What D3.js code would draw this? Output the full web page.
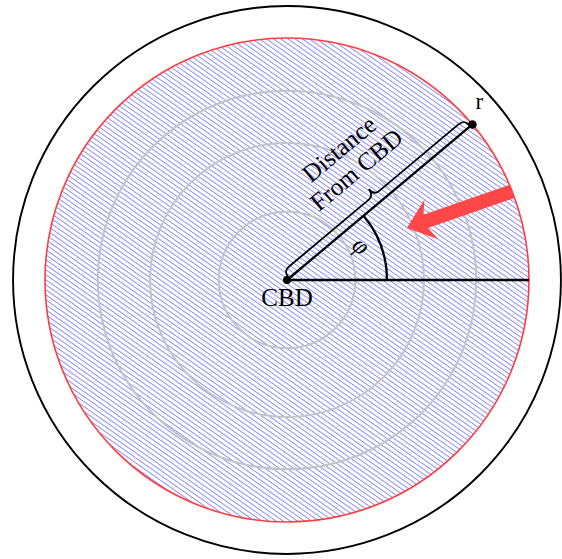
<!DOCTYPE html>
<html><head><meta charset="utf-8">
<script src="https://cdn.jsdelivr.net/npm/d3@7/dist/d3.min.js"></script>
<style>html,body{margin:0;padding:0;background:#fff;}</style>
</head><body>
<script>
// Diagram values (in units of the city boundary radius)
const ringRadii = [0.282, 0.566, 0.782];      // grey concentric rings
const boundaryRadius = [1.0];                   // red city boundary (hatched area)
const outerRadius = [1.132];                    // outer black circle
const phiDeg = [40];                            // angle of the ray to r
const arcRadius = [0.413];                      // angle-marker arc radius
const arrowFrom = {r: 1.0, deg: 21.5};          // red arrow start (polar)
const arrowTo = {r: 0.54, deg: 23.5};           // red arrow tip (polar)
const labels = {center: "CBD", point: "r", angle: "φ", brace: ["Distance", "From CBD"]};

const W = 562, H = 559, cx = 287, cy = 280;
const rs = d3.scaleLinear().domain([0, 1]).range([0, 242]);
const polar = (r, deg) => [cx + rs(r) * Math.cos(deg * Math.PI / 180), cy - rs(r) * Math.sin(deg * Math.PI / 180)];

const svg = d3.select("body").append("svg").attr("width", W).attr("height", H);
const defs = svg.append("defs");
const pat = defs.append("pattern").attr("id", "hatch").attr("patternUnits", "userSpaceOnUse")
  .attr("width", 8).attr("height", 4.1).attr("patternTransform", "rotate(35)");
pat.append("line").attr("x1", -1).attr("x2", 9).attr("y1", 2).attr("y2", 2)
  .attr("stroke", "#7b7bff").attr("stroke-width", 0.85);

const font = "'Liberation Serif', 'DejaVu Serif', serif";

// outer black circle
svg.append("circle").attr("cx", cx).attr("cy", cy).attr("r", rs(outerRadius[0]))
  .attr("fill", "none").attr("stroke", "#000").attr("stroke-width", 1.9);

// hatched city area
svg.selectAll("circle.bound").data(boundaryRadius).join("circle").attr("class", "bound")
  .attr("cx", cx).attr("cy", cy).attr("r", d => rs(d)).attr("fill", "url(#hatch)").attr("stroke", "none");

// grey rings
svg.selectAll("circle.ring").data(ringRadii).join("circle").attr("class", "ring")
  .attr("cx", cx).attr("cy", cy).attr("r", d => rs(d))
  .attr("fill", "none").attr("stroke", "#c4c4c4").attr("stroke-width", 2);

// red boundary
svg.selectAll("circle.boundline").data(boundaryRadius).join("circle").attr("class", "boundline")
  .attr("cx", cx).attr("cy", cy).attr("r", d => rs(d))
  .attr("fill", "none").attr("stroke", "#ff3b3b").attr("stroke-width", 1.6);

// horizontal line and ray
const pEnd = polar(boundaryRadius[0], 0), pR = polar(boundaryRadius[0], phiDeg[0]);
svg.append("line").attr("x1", cx).attr("y1", cy).attr("x2", pEnd[0]).attr("y2", pEnd[1])
  .attr("stroke", "#000").attr("stroke-width", 2.3);
svg.append("line").attr("x1", cx).attr("y1", cy).attr("x2", pR[0]).attr("y2", pR[1])
  .attr("stroke", "#000").attr("stroke-width", 2.3);

// angle arc
const arcGen = d3.arc().innerRadius(rs(arcRadius[0])).outerRadius(rs(arcRadius[0]))
  .startAngle(Math.PI / 2 - phiDeg[0] * Math.PI / 180).endAngle(Math.PI / 2);
svg.append("path").attr("transform", `translate(${cx},${cy})`).attr("d", arcGen())
  .attr("fill", "none").attr("stroke", "#000").attr("stroke-width", 2.3);

// brace along ray
const L = rs(boundaryRadius[0]);
const x0 = 3, x1 = L - 3, mid = (x0 + x1) / 2, a = 9;
const brace = `M${x0},-2 C${x0},-7 ${x0+2},-${a} ${x0+8},-${a} L${mid-7},-${a} C${mid-2},-${a} ${mid},-${a+3} ${mid},-${2*a-1} C${mid},-${a+3} ${mid+2},-${a} ${mid+7},-${a} L${x1-8},-${a} C${x1-2},-${a} ${x1},-7 ${x1},-2`;
const bg = svg.append("g").attr("transform", `translate(${cx},${cy}) rotate(${-phiDeg[0]})`);
bg.append("path").attr("d", brace).attr("fill", "none").attr("stroke", "#000").attr("stroke-width", 1.8);
bg.selectAll("text").data(labels.brace).join("text")
  .attr("x", mid + 3).attr("y", (d, i) => i === 0 ? -67 : -40)
  .attr("text-anchor", "middle").attr("dominant-baseline", "central")
  .attr("font-family", font).attr("font-size", 25).attr("fill", "#000").text(d => d);

// phi label
const pPhi = polar(arcRadius[0] * 0.82, phiDeg[0] / 2 + 5);
svg.append("text").attr("transform", `translate(${pPhi[0]},${pPhi[1]}) rotate(40)`)
  .attr("text-anchor", "middle").attr("dominant-baseline", "central")
  .attr("font-family", font).attr("font-style", "italic").attr("font-size", 25).text(labels.angle);

// dots
svg.append("circle").attr("cx", cx).attr("cy", cy).attr("r", 4).attr("fill", "#000");
svg.append("circle").attr("cx", pR[0]).attr("cy", pR[1]).attr("r", 4.3).attr("fill", "#000");

// labels
svg.append("text").attr("x", cx).attr("y", cy + 26).attr("text-anchor", "middle")
  .attr("font-family", font).attr("font-size", 25).text(labels.center);
svg.append("text").attr("x", pR[0] + 7).attr("y", pR[1] - 15).attr("text-anchor", "middle")
  .attr("font-family", font).attr("font-size", 23).text(labels.point);

// red arrow
const s = polar(arrowFrom.r, arrowFrom.deg), t = polar(arrowTo.r, arrowTo.deg);
const dx = t[0] - s[0], dy = t[1] - s[1], len = Math.hypot(dx, dy);
const ang = Math.atan2(dy, dx) * 180 / Math.PI;
const hw = 7, headL = 26, headW = 21, notch = 20;
const arrowPath = `M0,${-hw} L${len-notch},${-hw} L${len-headL},${-headW} L${len},0 L${len-headL},${headW} L${len-notch},${hw} L0,${hw} Z`;
svg.append("path").attr("transform", `translate(${s[0]},${s[1]}) rotate(${ang})`)
  .attr("d", arrowPath).attr("fill", "#ff4747");
</script>
</body></html>
